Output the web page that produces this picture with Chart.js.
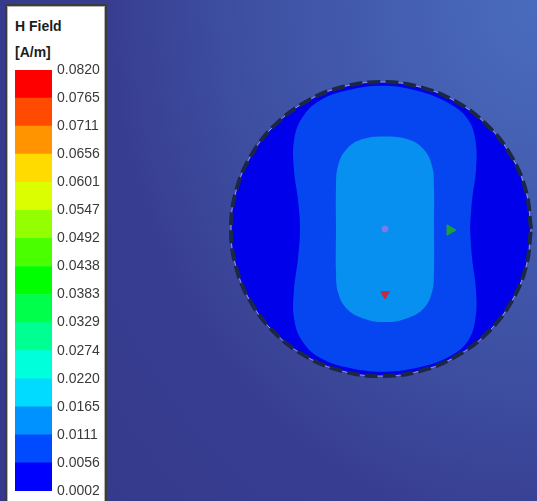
<!DOCTYPE html>
<html>
<head>
<meta charset="utf-8">
<script src="https://cdn.jsdelivr.net/npm/chart.js@4.4.0/dist/chart.umd.min.js"></script>
<style>
    html, body { margin: 0; padding: 0; width: 537px; height: 501px; overflow: hidden; }
    body {
        position: relative;
        background: radial-gradient(ellipse 120% 160% at 100% 0%, #4a6cbe 0%, #3e50a2 45%, #373d90 68%, #35398c 100%);
    }
    #graficoCampo { position: absolute; left: 0; top: 0; }
    #legenda {
        position: absolute; left: 5px; top: 4px; width: 98px; height: 520px;
        background: #fff; border: 2px solid #3c3c3c;
        box-shadow: inset 1px 1px 0 #b4b4b4, inset -1px 0 0 #b4b4b4;
    }
    #titulo {
        position: absolute; left: 15px; top: 13px;
        font: bold 14px 'Liberation Sans', Arial, sans-serif; line-height: 26px; color: #1c1c1c;
    }
    #graficoEscala { position: absolute; left: 15px; top: 56px; }
</style>
</head>
<body>
<canvas id="graficoCampo" width="537" height="501"></canvas>
<div id="legenda"></div>
<div id="titulo">H Field<br>[A/m]</div>
<canvas id="graficoEscala" width="87" height="449"></canvas>

<script>
// niveis do campo H (A/m), de baixo para cima
const niveisCampo = ['0.0002', '0.0056', '0.0111', '0.0165', '0.0220', '0.0274', '0.0329', '0.0383',
    '0.0438', '0.0492', '0.0547', '0.0601', '0.0656', '0.0711', '0.0765', '0.0820']
const coresNiveis = ['#0000ff', '#004aff', '#0093ff', '#00dbff', '#00ffdb', '#00ff93', '#00ff4a', '#00ff00',
    '#4aff00', '#93ff00', '#dbff00', '#ffdb00', '#ff9300', '#ff4a00', '#ff0000']

// contornos em mm, centro do condutor em (0,0)
const contornoCirculo = [
    [10, 0], [9.66, 2.59], [8.66, 5], [7.07, 7.07], [5, 8.66], [2.59, 9.66], [0, 10],
    [-2.59, 9.66], [-5, 8.66], [-7.07, 7.07], [-8.66, 5], [-9.66, 2.59], [-10, 0],
    [-9.66, -2.59], [-8.66, -5], [-7.07, -7.07], [-5, -8.66], [-2.59, -9.66], [0, -10],
    [2.59, -9.66], [5, -8.66], [7.07, -7.07], [8.66, -5], [9.66, -2.59], [10, 0]
]
// faixa 0.0056 - 0.0111
const contornoMedio = [
    [5.93, 0], [6.07, 1.97], [6.33, 4.01], [6.3, 6.0], [5.8, 7.45], [4.6, 8.5], [2.6, 9.35],
    [0.27, 9.75], [-2.07, 9.48], [-4.07, 8.75], [-5.27, 7.55], [-5.8, 6.0], [-5.8, 4.01],
    [-5.53, 1.97], [-5.4, 0], [-5.53, -1.97], [-5.8, -4.15], [-5.8, -6.05], [-5.27, -7.6],
    [-4.07, -8.75], [-2.07, -9.45], [0.27, -9.7], [2.6, -9.38], [4.6, -8.65], [5.8, -7.6],
    [6.3, -6.05], [6.33, -4.15], [6.07, -1.97], [5.93, 0]
]
// faixa 0.0111 - 0.0165
const contornoInterno = [
    [3.53, 0], [3.53, 2.92], [3.4, 4.29], [2.87, 5.4], [1.8, 6.1], [0.27, 6.3], [-1.27, 6.1],
    [-2.33, 5.4], [-2.87, 4.29], [-3.0, 2.92], [-3.0, 0], [-3.0, -2.92], [-2.87, -4.29],
    [-2.33, -5.37], [-1.27, -6.05], [0.27, -6.33], [1.8, -6.05], [2.87, -5.37], [3.4, -4.29],
    [3.53, -2.92], [3.53, 0]
]
const marcadorCentro = [[0.27, 0]]
const marcadorDireita = [[4.6, -0.07]]
const marcadorBaixo = [[0.27, -4.42]]

function pontos(lista){
    return lista.map(([x, y]) => ({x: x, y: y}))
}

class GraficoCampo {
    constructor(){
        this.grafico = null
        this.idCanvas = 'graficoCampo'
    }

    regiao(lista, cor, ordem){
        return {
            data: pontos(lista),
            showLine: true,
            fill: 'shape',
            backgroundColor: cor,
            borderWidth: 0,
            pointRadius: 0,
            tension: 0.4,
            order: ordem
        }
    }

    marcador(lista, cor, estilo, rotacao, raio){
        return {
            data: pontos(lista),
            pointStyle: estilo,
            rotation: rotacao,
            pointRadius: raio,
            backgroundColor: cor,
            borderColor: cor,
            borderWidth: 1,
            order: 0
        }
    }

    obterConfiguracao(){
        return {
            type: 'scatter',
            data: {
                datasets: [
                    this.regiao(contornoCirculo, '#0000ea', 5),
                    this.regiao(contornoMedio, '#0646f0', 4),
                    this.regiao(contornoInterno, '#0890f0', 3),
                    {
                        data: pontos(contornoCirculo),
                        showLine: true, fill: false, pointRadius: 0, tension: 0.4,
                        borderColor: 'rgba(176, 170, 226, 0.9)', borderWidth: 1, order: 2
                    },
                    {
                        data: pontos(contornoCirculo),
                        showLine: true, fill: false, pointRadius: 0, tension: 0.4,
                        borderColor: '#1b2747', borderWidth: 4, borderDash: [13, 5], order: 1
                    },
                    this.marcador(marcadorCentro, 'rgba(140, 120, 230, 0.85)', 'circle', 0, 3),
                    this.marcador(marcadorDireita, '#1f9e3e', 'triangle', 90, 6),
                    this.marcador(marcadorBaixo, '#c42a40', 'triangle', 180, 5)
                ]
            },
            options: {
                responsive: false,
                animation: false,
                layout: { padding: 0, autoPadding: false },
                scales: {
                    x: { type: 'linear', display: false, min: -25.4, max: 10.4 },
                    y: { type: 'linear', display: false, min: -18.5, max: 15.58 }
                },
                plugins: {
                    legend: { display: false },
                    tooltip: { enabled: false }
                }
            }
        }
    }

    plotarGrafico(){
        if( this.grafico != null ){
            this.grafico.destroy()
        }
        this.grafico = new Chart(this.getCanvas(), this.obterConfiguracao())
    }

    getCanvas(){
        return document.getElementById(this.idCanvas)
    }
}

class GraficoEscala {
    constructor(){
        this.grafico = null
        this.idCanvas = 'graficoEscala'
    }

    obterConfiguracao(){
        const faixas = coresNiveis.map((cor) => ({
            data: [1],
            backgroundColor: cor,
            borderWidth: 0,
            barPercentage: 1,
            categoryPercentage: 1
        }))
        return {
            type: 'bar',
            data: {
                labels: [''],
                datasets: faixas
            },
            options: {
                responsive: false,
                animation: false,
                layout: { padding: { top: 14, bottom: 14, left: 0, right: 0 } },
                scales: {
                    x: { stacked: true, display: false },
                    y: {
                        stacked: true,
                        position: 'right',
                        min: 0,
                        max: niveisCampo.length - 1,
                        afterFit: (escala) => { escala.width = 50 },
                        grid: { display: false, drawTicks: false },
                        border: { display: false },
                        ticks: {
                            stepSize: 1,
                            autoSkip: false,
                            padding: 5,
                            color: '#3a3a3a',
                            font: { family: "'Liberation Sans', Arial, sans-serif", size: 14 },
                            callback: (valor) => niveisCampo[valor]
                        }
                    }
                },
                plugins: {
                    legend: { display: false },
                    tooltip: { enabled: false }
                }
            }
        }
    }

    plotarGrafico(){
        if( this.grafico != null ){
            this.grafico.destroy()
        }
        this.grafico = new Chart(this.getCanvas(), this.obterConfiguracao())
    }

    getCanvas(){
        return document.getElementById(this.idCanvas)
    }
}

let graficoCampo = new GraficoCampo()
graficoCampo.plotarGrafico()

let graficoEscala = new GraficoEscala()
graficoEscala.plotarGrafico()
</script>
</body>
</html>
